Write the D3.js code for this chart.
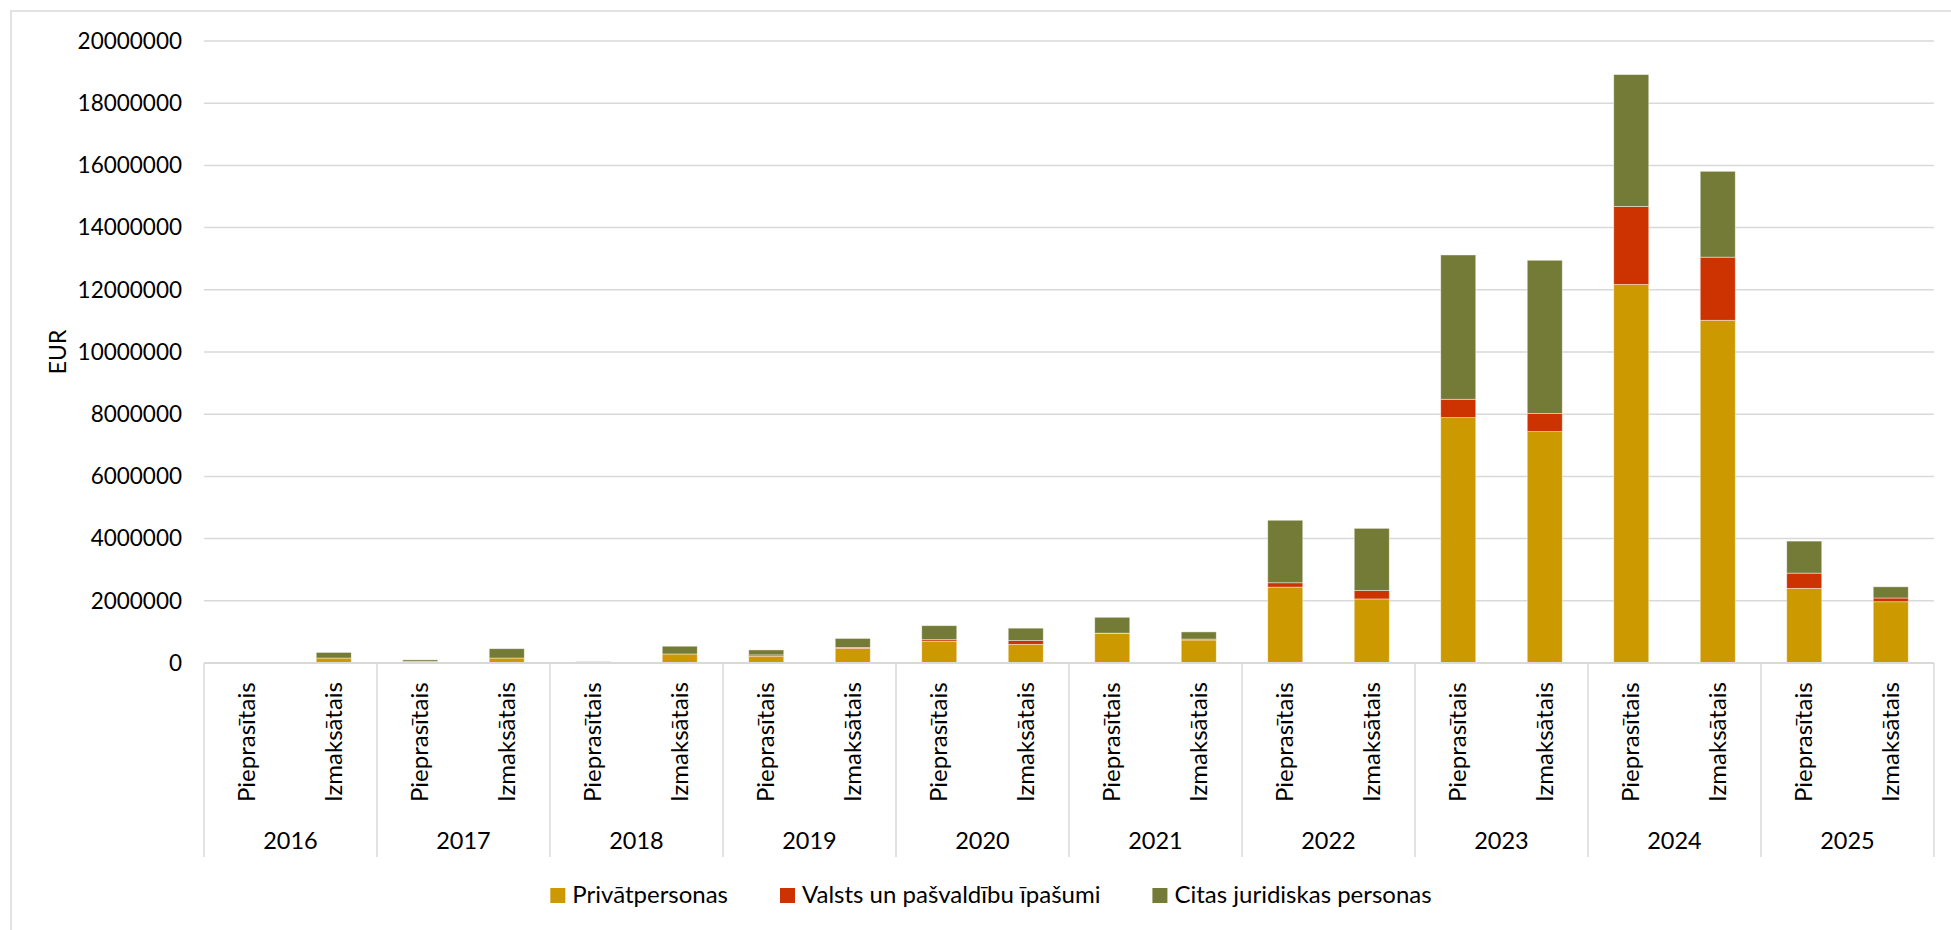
<!DOCTYPE html>
<html>
<head>
<meta charset="utf-8">
<script src="https://cdn.jsdelivr.net/npm/d3@7"></script>
<style>
  html, body { margin: 0; padding: 0; background: #fff; }
  svg { display: block; font-family: Lato, "Open Sans", sans-serif; }
</style>
</head>
<body>
<svg id="chart" width="1951" height="930"></svg>
<script>
// Years and the two amount types shown for each year
const years = ["2016", "2017", "2018", "2019", "2020", "2021", "2022", "2023", "2024", "2025"];
const kinds = ["Pieprasītais", "Izmaksātais"];

// Series names (stack order, bottom to top)
const seriesNames = ["Privātpersonas", "Valsts un pašvaldību īpašumi", "Citas juridiskas personas"];
const seriesColors = ["#CC9900", "#CC3300", "#747B36"];

// Values in EUR, two per year (Pieprasītais, Izmaksātais)
const privatpersonas = [
  0, 160000,   50000, 160000,   10000, 290000,   220000, 470000,   700000, 600000,
  950000, 740000,   2440000, 2060000,   7890000, 7440000,   12170000, 11020000,   2400000, 1970000
];
const valstsPasvaldibas = [
  0, 0,   0, 0,   0, 0,   40000, 30000,   50000, 120000,
  10000, 30000,   140000, 270000,   590000, 580000,   2510000, 2030000,   490000, 120000
];
const citasJuridiskas = [
  0, 180000,   50000, 300000,   30000, 250000,   160000, 290000,   450000, 400000,
  510000, 230000,   2010000, 2000000,   4640000, 4930000,   4240000, 2760000,   1030000, 360000
];

// Y axis ticks
const yTicks = [0, 2000000, 4000000, 6000000, 8000000, 10000000, 12000000, 14000000, 16000000, 18000000, 20000000];
const yTitle = "EUR";

// Build one row per bar
const rows = [];
years.forEach((y, i) => {
  kinds.forEach((k, j) => {
    const idx = i * 2 + j;
    rows.push({
      year: y, kind: k,
      [seriesNames[0]]: privatpersonas[idx],
      [seriesNames[1]]: valstsPasvaldibas[idx],
      [seriesNames[2]]: citasJuridiskas[idx]
    });
  });
});

const svg = d3.select("#chart");
const W = 1951, H = 930;
const plot = { left: 204, right: 1934, top: 41, bottom: 663 };

// Outer chart frame
svg.append("rect")
  .attr("x", 11).attr("y", 11)
  .attr("width", W).attr("height", H)
  .attr("fill", "#fff").attr("stroke", "#D9D9D9").attr("stroke-width", 1.5);

const x0 = d3.scaleBand().domain(years).range([plot.left, plot.right]).padding(0);
const x1 = d3.scaleBand().domain(kinds).range([0, x0.bandwidth()])
  .paddingInner(0.595).paddingOuter(0.2975);
const y = d3.scaleLinear().domain([0, 20000000]).range([plot.bottom, plot.top]);
const color = d3.scaleOrdinal().domain(seriesNames).range(seriesColors);

// Horizontal gridlines
svg.append("g")
  .selectAll("line")
  .data(yTicks.filter(t => t > 0))
  .join("line")
  .attr("x1", plot.left).attr("x2", plot.right)
  .attr("y1", d => y(d)).attr("y2", d => y(d))
  .attr("stroke", "#D9D9D9").attr("stroke-width", 1.5);

// Y axis labels
const yAxis = d3.axisLeft(y).tickValues(yTicks).tickFormat(d3.format("d")).tickSize(0).tickPadding(0);
const gy = svg.append("g").attr("transform", `translate(${plot.left - 22},0)`).call(yAxis);
gy.select(".domain").remove();
gy.selectAll("text")
  .attr("font-family", "Lato, 'Open Sans', sans-serif")
  .attr("font-size", 22.5)
  .attr("fill", "#000");

// Y axis title
svg.append("text")
  .attr("transform", `translate(66,${(plot.top + plot.bottom) / 2}) rotate(-90)`)
  .attr("text-anchor", "middle")
  .attr("font-size", 23)
  .attr("fill", "#000")
  .text(yTitle);

// Stacked bars
const stack = d3.stack().keys(seriesNames);
const layers = stack(rows);
svg.append("g")
  .selectAll("g")
  .data(layers)
  .join("g")
  .attr("fill", d => color(d.key))
  .selectAll("rect")
  .data(d => d)
  .join("rect")
  .attr("x", d => x0(d.data.year) + x1(d.data.kind))
  .attr("width", x1.bandwidth())
  .attr("y", d => y(d[1]))
  .attr("height", d => Math.max(0, y(d[0]) - y(d[1])))
  .attr("stroke", "#ffffff").attr("stroke-opacity", 0.55).attr("stroke-width", 0.8);

// Category axis: baseline and group separators
const axisBottom = 857;
svg.append("line")
  .attr("x1", plot.left).attr("x2", plot.right)
  .attr("y1", plot.bottom).attr("y2", plot.bottom)
  .attr("stroke", "#D9D9D9").attr("stroke-width", 2);
const bounds = years.map(yv => x0(yv)).concat([plot.right]);
svg.append("g")
  .selectAll("line")
  .data(bounds)
  .join("line")
  .attr("x1", d => d).attr("x2", d => d)
  .attr("y1", plot.bottom).attr("y2", axisBottom)
  .attr("stroke", "#D9D9D9").attr("stroke-width", 1.5);

// Inner category labels (rotated)
svg.append("g")
  .selectAll("text")
  .data(rows)
  .join("text")
  .attr("transform", d => `translate(${x0(d.year) + x1(d.kind) + x1.bandwidth() / 2 + 8},802) rotate(-90)`)
  .attr("text-anchor", "start")
  .attr("font-size", 24)
  .attr("fill", "#000")
  .text(d => d.kind);

// Year labels
svg.append("g")
  .selectAll("text")
  .data(years)
  .join("text")
  .attr("x", d => x0(d) + x0.bandwidth() / 2)
  .attr("y", 849)
  .attr("text-anchor", "middle")
  .attr("font-size", 23.5)
  .attr("fill", "#000")
  .text(d => d);

// Legend
const legend = svg.append("g");
const items = legend.selectAll("g").data(seriesNames).join("g");
items.append("rect")
  .attr("width", 15).attr("height", 15)
  .attr("y", 888)
  .attr("fill", d => color(d));
items.append("text")
  .attr("x", 22).attr("y", 903)
  .attr("font-size", 24)
  .attr("fill", "#000")
  .text(d => d);
let cursor = 0;
const offsets = [];
items.each(function () {
  offsets.push(cursor);
  const tw = d3.select(this).select("text").node().getComputedTextLength();
  cursor += 22 + tw + 52;
});
const totalW = cursor - 52;
const startX = 991 - totalW / 2;
items.attr("transform", (d, i) => `translate(${startX + offsets[i]},0)`);
</script>
</body>
</html>
